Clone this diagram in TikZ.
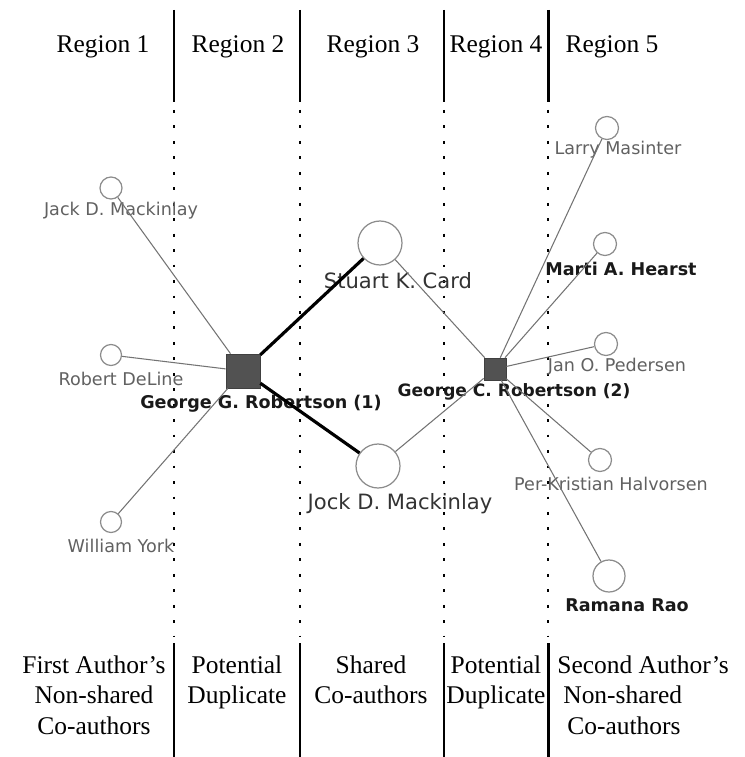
\documentclass[tikz,border=0pt]{standalone}
\usepackage{fontspec}
\setmainfont{Liberation Serif}
\newfontfamily\labelfont{DejaVu Sans}
\usetikzlibrary{positioning}

\begin{document}
\begin{tikzpicture}[x=0.02cm, y=-0.02cm,
    author/.style={circle, draw=black!45, fill=white, line width=0.7pt, inner sep=0pt},
    dup/.style={rectangle, fill=black!68, draw=black!75, inner sep=0pt},
    coname/.style={font=\labelfont\fontsize{10}{12}\selectfont, text=black!62, inner sep=1pt},
    boldname/.style={font=\labelfont\bfseries\fontsize{10}{12}\selectfont, text=black!90, inner sep=1pt},
    sharedname/.style={font=\labelfont\fontsize{12}{14}\selectfont, text=black!80, inner sep=1pt},
    region/.style={font=\fontsize{14.5}{17.6}\selectfont, align=center, inner sep=0pt},
    link/.style={draw=black!55, line width=0.6pt},
    strong/.style={draw=black, line width=1.8pt},
    wall/.style={line width=1.7pt},
    dotline/.style={line width=1.6pt, dash pattern=on 1.6pt off 7.2pt}]
  \useasboundingbox (0,0) rectangle (744,757);

  \foreach \x in {174, 300, 444, 548} {
    \draw[wall] (\x,10) -- (\x,102);
    \draw[dotline] (\x,110) -- (\x,636);
    \draw[wall] (\x,643) -- (\x,757);
  }

  \node[region] (r1) at (103,47) {Region 1};
  \node[region] (r2) at (238,47) {Region 2};
  \node[region] (r3) at (373,47) {Region 3};
  \node[region] (r4) at (496,47) {Region 4};
  \node[region] (r5) at (612,47) {Region 5};

  \node[region, anchor=north] (b1) at (94,655) {First Author's\\Non-shared\\Co-authors};
  \node[region, anchor=north] (b2) at (237,655) {Potential\\Duplicate};
  \node[region, anchor=north] (b3) at (371,655) {Shared\\Co-authors};
  \node[region, anchor=north] (b4) at (496,655) {Potential\\Duplicate};
  \node[region, anchor=north west, align=left] (b5) at (557,655)
    {Second Author's\\\hspace{0.12cm}Non-shared\\\hspace{0.2cm}Co-authors};

  \node[dup, minimum size=0.68cm] (ggr) at (243,371) {};
  \node[dup, minimum size=0.44cm] (gcr) at (495,369) {};
  \node[boldname] (ggrlab) at (261,404) {George G. Robertson (1)};
  \node[boldname, font=\labelfont\bfseries\fontsize{9.7}{11}\selectfont] (gcrlab) at (514,392) {George C. Robertson (2)};

  \node[author, minimum size=0.88cm] (card) at (380,243) {};
  \node[author, minimum size=0.88cm] (jock) at (378,466) {};
  \node[sharedname] (cardlab) at (398,281) {Stuart K. Card};
  \node[sharedname] (jocklab) at (400,504) {Jock D. Mackinlay};

  \node[author, minimum size=0.44cm] (jack) at (111,188) {};
  \node[author, minimum size=0.42cm] (deline) at (111,355) {};
  \node[author, minimum size=0.42cm] (york) at (111,522) {};
  \node[coname] (jacklab) at (121,211) {Jack D. Mackinlay};
  \node[coname] (delinelab) at (121,379) {Robert DeLine};
  \node[coname] (yorklab) at (121,546) {William York};

  \node[author, minimum size=0.46cm] (masinter) at (607,128) {};
  \node[author, minimum size=0.46cm] (hearst) at (605,244) {};
  \node[author, minimum size=0.46cm] (pedersen) at (606,344) {};
  \node[author, minimum size=0.46cm] (halvorsen) at (600,460) {};
  \node[author, minimum size=0.64cm] (rao) at (609,576) {};
  \node[coname] (masinterlab) at (618,150) {Larry Masinter};
  \node[boldname] (hearstlab) at (621,269) {Marti A. Hearst};
  \node[coname] (pedersenlab) at (617,367) {Jan O. Pedersen};
  \node[coname] (halvorsenlab) at (611,484) {Per-Kristian Halvorsen};
  \node[boldname] (raolab) at (627,605) {Ramana Rao};

  \foreach \a in {jack, deline, york} {
    \draw[link] (ggr) -- (\a);
  }
  \foreach \a in {card, jock} {
    \draw[strong] (ggr) -- (\a);
    \draw[link] (gcr) -- (\a);
  }
  \foreach \a in {masinter, hearst, pedersen, halvorsen, rao} {
    \draw[link] (gcr) -- (\a);
  }
\end{tikzpicture}
\end{document}
